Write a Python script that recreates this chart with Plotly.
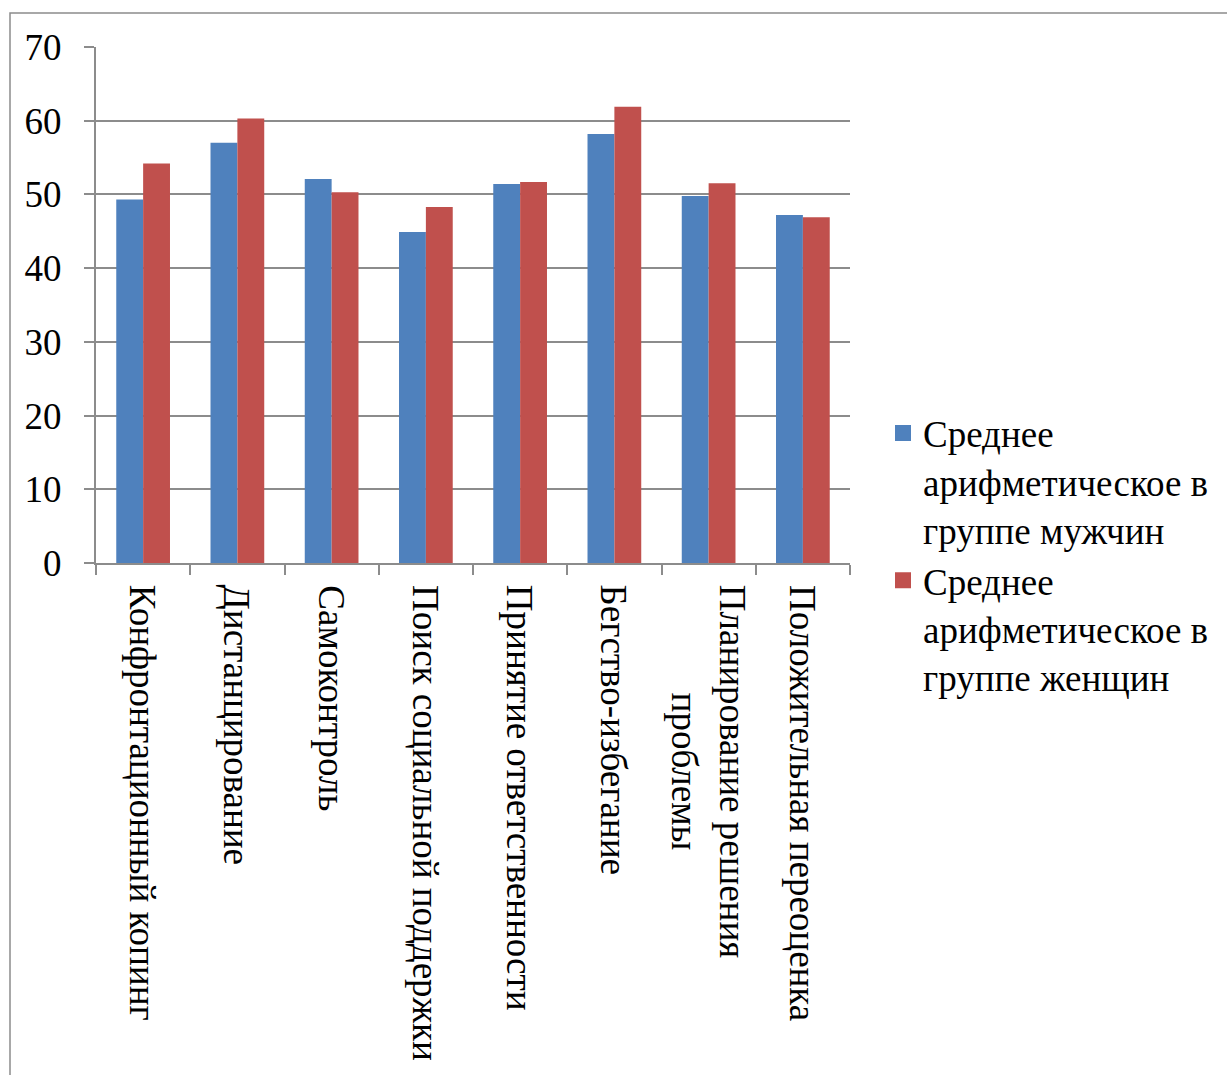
import plotly.graph_objects as go

categories = [
    "Конфронтационный копинг",
    "Дистанцирование",
    "Самоконтроль",
    "Поиск социальной поддержки",
    "Принятие ответственности",
    "Бегство-избегание",
    "Планирование решения<br>проблемы",
    "Положительная переоценка",
]
men_values = [49.3, 57.0, 52.1, 44.9, 51.4, 58.2, 49.8, 47.2]
women_values = [54.2, 60.3, 50.3, 48.3, 51.7, 61.9, 51.5, 46.9]
series_names = [
    "Среднее<br>арифметическое в<br>группе мужчин",
    "Среднее<br>арифметическое в<br>группе женщин",
]
series_colors = ["#4F81BD", "#C0504D"]
y_ticks = [0, 10, 20, 30, 40, 50, 60, 70]

FONT = "Liberation Serif"
FS = 37
GRID = "#8c8c8c"
W, H = 1227, 1075
L, R, T, B = 96, 850, 47, 563

fig = go.Figure()
for vals, name, col in zip([men_values, women_values], series_names, series_colors):
    fig.add_trace(go.Bar(x=categories, y=vals, name=name, showlegend=False,
                         marker=dict(color=col, line=dict(width=0))))
# legend keys drawn as larger squares
for name, col in zip(series_names, series_colors):
    fig.add_trace(go.Scatter(x=[None], y=[None], mode="markers", name=name,
                             marker=dict(symbol="square", size=18, color=col)))

# category labels, rotated and centred under each group
for cat in categories:
    fig.add_annotation(x=cat, y=0, xref="x", yref="y", text=cat, textangle=90,
                       showarrow=False, xanchor="center", yanchor="top",
                       align="center", yshift=-20,
                       font=dict(family=FONT, size=FS, color="black"))


def px_x(p):
    return (p - L) / (R - L)


def px_y(p):
    return (B - p) / (B - T)


# outer chart frame
fig.add_shape(type="rect", xref="paper", yref="paper",
              x0=px_x(10), x1=px_x(1260), y0=px_y(1100), y1=px_y(13),
              line=dict(color=GRID, width=1.5), fillcolor="rgba(0,0,0,0)")

fig.update_layout(
    width=W, height=H,
    margin=dict(l=L, r=W - R, t=T, b=H - B, pad=0),
    paper_bgcolor="white", plot_bgcolor="white",
    font=dict(family=FONT, size=FS, color="black"),
    barmode="group", bargap=0.43, bargroupgap=0,
    showlegend=True,
    legend=dict(x=px_x(883), y=px_y(555), xanchor="left", yanchor="middle",
                font=dict(family=FONT, size=FS, color="black"),
                tracegroupgap=0, valign="top", itemsizing="trace"),
    xaxis=dict(
        type="category", showgrid=False, showticklabels=False,
        showline=True, linecolor=GRID, linewidth=2,
        ticks="outside", tickson="boundaries", ticklen=10, tickwidth=2, tickcolor=GRID,
    ),
    yaxis=dict(
        range=[0, 70], tickvals=y_ticks, showgrid=True, gridcolor=GRID, gridwidth=2,
        showline=True, linecolor=GRID, linewidth=2, zeroline=False,
        ticks="outside", ticklen=10, tickwidth=2, tickcolor=GRID,
        tickfont=dict(family=FONT, size=FS, color="black"),
        ticklabelstandoff=15,
    ),
)

fig.write_html("out.html")
